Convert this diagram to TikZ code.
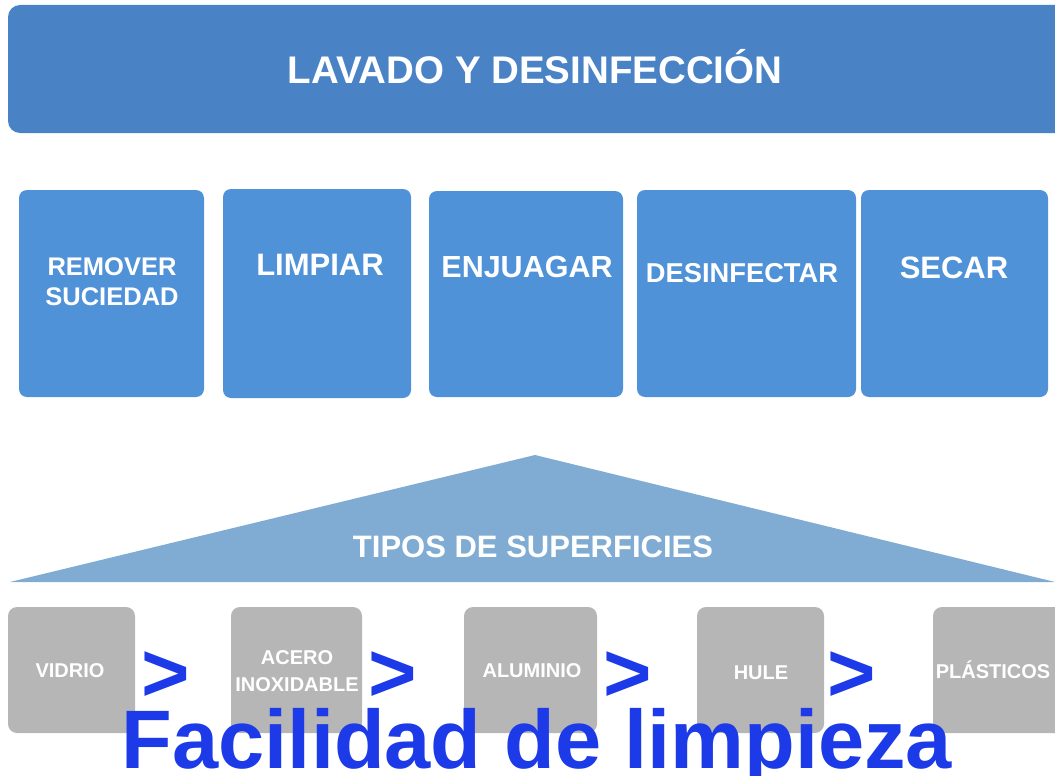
\documentclass[tikz,border=0pt]{standalone}
\usepackage{fontspec}
\setmainfont{Liberation Sans}
\definecolor{barblue}{RGB}{74,130,198}
\definecolor{stepblue}{RGB}{80,146,216}
\definecolor{triblue}{RGB}{128,172,212}
\definecolor{boxgray}{RGB}{182,182,182}
\definecolor{vivid}{RGB}{28,58,232}
\tikzset{
  stepbox/.style={fill=stepblue, draw=none, rounded corners=8pt},
  graybox/.style={fill=boxgray, draw=none, rounded corners=9pt},
  wtxt/.style={text=white, font=\bfseries, inner sep=0pt, anchor=base, align=center},
  gt/.style={text=vivid, inner sep=0pt, anchor=base, font=\fontsize{83}{83}\selectfont\bfseries},
}
\begin{document}
\begin{tikzpicture}[x=1pt,y=-1pt]
\useasboundingbox (0,0) rectangle (1055,776);
% top bar
\fill[barblue, rounded corners=12pt] (8,5) rectangle (1068,133);
\node[wtxt, font=\fontsize{38.5}{40}\selectfont\bfseries] (title) at (535,84) {LAVADO Y DESINFECCIÓN};
% step boxes
\fill[stepblue, rounded corners=8pt] (19,190) rectangle (204,397);
\fill[stepblue, rounded corners=8pt] (223,189) rectangle (411,398);
\fill[stepblue, rounded corners=8pt] (429,191) rectangle (623,397);
\fill[stepblue, rounded corners=8pt] (637,190) rectangle (856,397);
\fill[stepblue, rounded corners=8pt] (861,190) rectangle (1048,397);
\node[wtxt, font=\fontsize{25.5}{30}\selectfont\bfseries] (s1a) at (112,275) {REMOVER};
\node[wtxt, font=\fontsize{25.5}{30}\selectfont\bfseries] (s1b) at (112,305) {SUCIEDAD};
\node[wtxt, font=\fontsize{31}{34}\selectfont\bfseries] (s2) at (320,275) {LIMPIAR};
\node[wtxt, font=\fontsize{30.5}{34}\selectfont\bfseries] (s3) at (527,277) {ENJUAGAR};
\node[wtxt, font=\fontsize{27.3}{30}\selectfont\bfseries] (s4) at (742,282) {DESINFECTAR};
\node[wtxt, font=\fontsize{31}{34}\selectfont\bfseries] (s5) at (954,278) {SECAR};
% triangle
\fill[triblue] (535,455) -- (1055,582) -- (10,582) -- cycle;
\node[wtxt, font=\fontsize{31}{34}\selectfont\bfseries] (tipos) at (533,557) {TIPOS DE SUPERFICIES};
% gray boxes
\fill[boxgray, rounded corners=9pt] (8,607) rectangle (135,733);
\fill[boxgray, rounded corners=9pt] (231,607) rectangle (362,733);
\fill[boxgray, rounded corners=9pt] (464,607) rectangle (597,733);
\fill[boxgray, rounded corners=9pt] (697,607) rectangle (824,733);
\fill[boxgray, rounded corners=9pt] (933,607) rectangle (1068,733);
\node[wtxt, font=\fontsize{20}{22}\selectfont\bfseries] (g1) at (70,677) {VIDRIO};
\node[wtxt, font=\fontsize{20}{22}\selectfont\bfseries] (g2a) at (297,664) {ACERO};
\node[wtxt, font=\fontsize{20}{22}\selectfont\bfseries] (g2b) at (297,691) {INOXIDABLE};
\node[wtxt, font=\fontsize{20}{22}\selectfont\bfseries] (g3) at (532,677) {ALUMINIO};
\node[wtxt, font=\fontsize{20}{22}\selectfont\bfseries] (g4) at (761,679) {HULE};
\node[wtxt, font=\fontsize{20}{22}\selectfont\bfseries] (g5) at (993,678) {PLÁSTICOS};
% greater-than signs
\node[gt] (gt1) at (166,701) {>};
\node[gt] (gt2) at (393,701) {>};
\node[gt] (gt3) at (628,701) {>};
\node[gt] (gt4) at (852,701) {>};
% bottom caption
\node[gt] (cap) at (537,768) {Facilidad de limpieza};
\end{tikzpicture}
\end{document}
